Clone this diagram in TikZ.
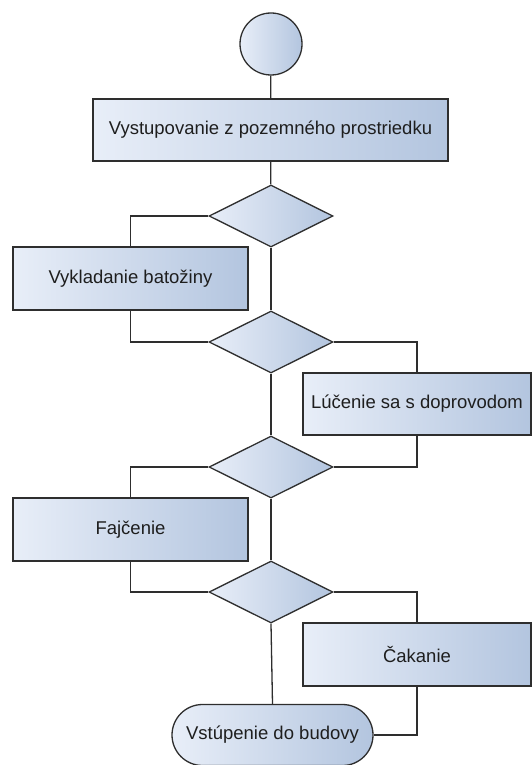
\documentclass[tikz,border=0pt]{standalone}
\usepackage{fontspec}
\setmainfont{Liberation Sans}
\usetikzlibrary{shapes.geometric,shapes.misc}
\definecolor{lineC}{HTML}{2E2E2E}
\definecolor{fillL}{HTML}{E8EEF8}
\definecolor{fillR}{HTML}{B3C5DF}
\definecolor{txtC}{HTML}{1E1E1E}
\tikzset{
  base/.style={draw=lineC, line width=1.3pt, left color=fillL, right color=fillR, inner sep=0pt, font=\fontsize{18.5}{20}\selectfont, text=txtC},
  actbox/.style={base, rectangle},
  decide/.style={base, diamond, aspect=2, minimum width=124pt, minimum height=62pt},
  startc/.style={base, circle, minimum size=62pt},
  termin/.style={base, rounded rectangle, minimum width=201pt, minimum height=61pt},
  conn/.style={draw=lineC, line width=1.3pt}
}
\begin{document}
\begin{tikzpicture}[x=1pt,y=-1pt]
\useasboundingbox (0,0) rectangle (532,765);
\node[startc] (s) at (271,44) {};
\node[actbox, minimum width=355pt, minimum height=62pt] (b1) at (270.5,130) {Vystupovanie z pozemného prostriedku};
\node[decide] (d1) at (271,216) {};
\node[actbox, minimum width=235pt, minimum height=63pt] (b2) at (130.5,278.5) {Vykladanie batožiny};
\node[decide] (d2) at (271,342) {};
\node[actbox, minimum width=228pt, minimum height=62pt] (b3) at (417,404) {Lúčenie sa s doprovodom};
\node[decide] (d3) at (271,467) {};
\node[actbox, minimum width=235pt, minimum height=63pt] (b4) at (130.5,529.5) {Fajčenie};
\node[decide] (d4) at (271,592) {};
\node[actbox, minimum width=228pt, minimum height=63pt] (b5) at (417,654.5) {Čakanie};
\node[termin] (e) at (272.5,735) {Vstúpenie do budovy};
\draw[conn] (s) -- (b1);
\draw[conn] (b1) -- (d1);
\draw[conn] (d1.west) -| (b2.north);
\draw[conn] (b2.south) |- (d2.west);
\draw[conn] (d1.south) -- (d2.north);
\draw[conn] (d2.east) -| (b3.north);
\draw[conn] (b3.south) |- (d3.east);
\draw[conn] (d2.south) -- (d3.north);
\draw[conn] (d3.west) -| (b4.north);
\draw[conn] (b4.south) |- (d4.west);
\draw[conn] (d3.south) -- (d4.north);
\draw[conn] (d4.east) -| (b5.north);
\draw[conn] (b5.south) |- (e.east);
\draw[conn] (d4.south) -- (e.north);
\end{tikzpicture}
\end{document}
